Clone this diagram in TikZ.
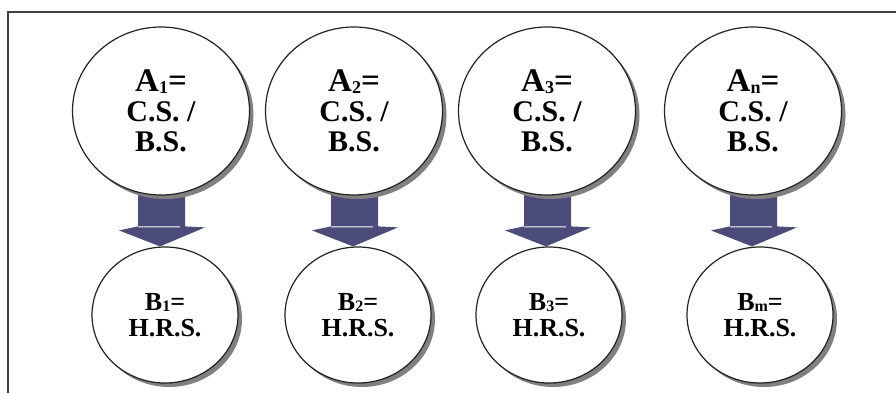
\documentclass[tikz,border=0pt]{standalone}
\usepackage{fontspec}
\setmainfont{Liberation Serif}
\usetikzlibrary{shapes.geometric,shadows,calc,backgrounds}
\definecolor{arrdark}{HTML}{4C4C7A}
\definecolor{arrlight}{HTML}{65659E}
\definecolor{rimcol}{HTML}{222222}
\newcommand{\subA}[1]{\raisebox{-1.5pt}{\fontsize{18}{18}\selectfont #1}}
\newcommand{\subB}[1]{\raisebox{-1.5pt}{\fontsize{16}{16}\selectfont #1}}
\newcommand{\bigA}[1]{{\fontsize{33}{30}\selectfont A\subA{#1}=}}
\newcommand{\fatarrow}[2]{%
  \path let \p1=(#1.south), \p2=(#2.north) in
    [fill=arrdark] (\x1-23pt,\y1+5pt) rectangle (\x1+19pt,\y2+19pt)
    [fill=arrlight] (\x1+19pt,\y1+5pt) rectangle (\x1+24pt,\y2+20pt)
    [fill=arrdark] (\x1-42pt,\y2+16pt) -- (\x1-23pt,\y2+20pt) -- (\x1+24pt,\y2+20pt)
       -- (\x1+44pt,\y2+19pt) -- (\x1-1pt,\y2) -- cycle;
}
\begin{document}
\begin{tikzpicture}[x=1pt,y=-1pt,
  shadowed/.style={drop shadow={shadow xshift=4pt,shadow yshift=-4pt,fill=black!50,opacity=1}},
  circA/.style={ellipse,draw=rimcol,line width=1.2pt,fill=white,shadowed,
    minimum width=177pt,minimum height=168pt,inner sep=0pt,align=center,
    font=\fontsize{30}{30}\selectfont\bfseries},
  circB/.style={ellipse,draw=rimcol,line width=1.2pt,fill=white,shadowed,
    minimum width=146pt,minimum height=136pt,inner sep=0pt,align=center,
    font=\fontsize{26}{26}\selectfont\bfseries},
  frameline/.style={line width=2pt,draw=black!75}]
\useasboundingbox (0,0) rectangle (896,394);
\draw[frameline] (8,393) -- (8,12) -- (896,12);

\node[circA] (a1) at (161,111) {\bigA{1}\\C.S. /\\B.S.};
\node[circA] (a2) at (354,111) {\bigA{2}\\C.S. /\\B.S.};
\node[circA] (a3) at (547,111) {\bigA{3}\\C.S. /\\B.S.};
\node[circA] (an) at (753,111) {\bigA{n}\\C.S. /\\B.S.};

\node[circB] (b1) at (165,315) {B\subB{1}=\\H.R.S.};
\node[circB] (b2) at (358,315) {B\subB{2}=\\H.R.S.};
\node[circB] (b3) at (549,315) {B\subB{3}=\\H.R.S.};
\node[circB] (bm) at (760,315) {B\subB{m}=\\H.R.S.};

\begin{scope}[on background layer]
\fatarrow{a1}{b1}
\fatarrow{a2}{b2}
\fatarrow{a3}{b3}
\fatarrow{an}{bm}
\end{scope}
\end{tikzpicture}
\end{document}
